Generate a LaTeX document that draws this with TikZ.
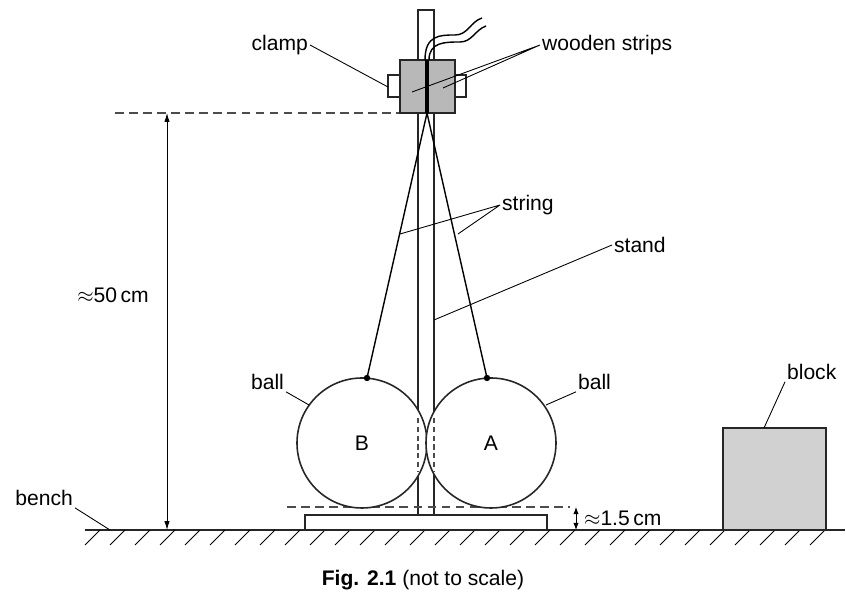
\documentclass[tikz,border=0pt]{standalone}
\usepackage{fontspec}
\setmainfont{Liberation Sans}
\usetikzlibrary{arrows.meta}
\begin{document}
\begin{tikzpicture}[x=0.02cm,y=-0.02cm,
  ln/.style={line width=0.9pt,black!85},
  lead/.style={line width=0.5pt},
  dsh/.style={line width=0.6pt,dash pattern=on 5pt off 3pt,black!70},
  lab/.style={font=\fontsize{12}{14}\selectfont,inner sep=1pt}]
\useasboundingbox (0,0) rectangle (846,607);
% ground
\draw[ln] (85,530) -- (845,530);
\foreach \x in {100,125,...,840} \draw[lead] (\x,530) -- (\x-15,545);
% base and stand
\draw[ln,fill=white] (305,515) rectangle (547,530);
\draw[ln] (418,10) rectangle (434,515);
% dashed lines
\draw[dsh] (115,113) -- (400,113);
\draw[dsh] (287,507) -- (570,507);
% balls
\node[lab] (B) at (362,443) {B};
\node[lab] (A) at (491,443) {A};
\draw[ln,fill=white] (362,443) circle[radius=65*0.02cm];
\draw[ln,fill=white] (491,443) circle[radius=65*0.02cm];
\node[lab] at (362,443) {B};
\node[lab] at (491,443) {A};
\draw[dsh,line width=0.8pt,dash pattern=on 3pt off 2pt] (418,418) -- (418,472) (434,418) -- (434,472);
% clamp
\draw[ln] (388,75) rectangle (400,97);
\draw[ln] (455,75) rectangle (466,97);
\draw[ln,fill=black!28] (400,60) rectangle (455,113);
\draw[line width=2.2pt] (427,60) -- (427,113);
% wires
\draw[line width=0.8pt] (425,60) .. controls (425,35) and (440,35) .. (455,35) .. controls (468,35) and (470,22) .. (482,18);
\draw[line width=0.8pt] (429,60) .. controls (429,42) and (445,42) .. (460,42) .. controls (472,42) and (475,30) .. (486,26);
% strings
\coordinate (top) at (427,113);
\coordinate (dB) at (367,378);
\coordinate (dA) at (487,378);
\draw[line width=0.8pt] (top) -- (dB) (top) -- (dA);
\fill (dB) circle[radius=3.2*0.02cm];
\fill (dA) circle[radius=3.2*0.02cm];
% dimension arrows
\draw[lead,{Latex[length=5pt,width=3pt]}-{Latex[length=5pt,width=3pt]}] (167,113) -- (167,530);
\node[lab,fill=white,inner sep=3pt] (d50) at (113,295) {$\approx$50\,cm};
\draw[lead,{Latex[length=4pt,width=3pt]}-{Latex[length=4pt,width=3pt]}] (576,507) -- (576,530);
\node[lab,anchor=west] (d15) at (582,518) {$\approx$1.5\,cm};
% block
\draw[ln,fill=black!18] (723,428) rectangle (826,530);
% labels and leaders
\node[lab,anchor=east] (clamp) at (310,45) {clamp};
\draw[lead] (clamp.east) -- (388,87);
\node[lab,anchor=west] (ws) at (540,45) {wooden strips};
\draw[lead] (ws.west) -- (412,92) (ws.west) -- (443,88);
\node[lab,anchor=west] (str) at (500,205) {string};
\draw[lead] (str.west) -- (400,234) (str.west) -- (458,234);
\node[lab,anchor=west] (stand) at (612,245) {stand};
\draw[lead] (stand.west) -- (434,320);
\node[lab,anchor=east] (ballB) at (286,382) {ball};
\draw[lead] (ballB.south east) -- (309,405);
\node[lab,anchor=west] (ballA) at (576,382) {ball};
\draw[lead] (ballA.south west) -- (546,405);
\node[lab,anchor=west] (block) at (785,372) {block};
\draw[lead] (block.south west) -- (764,428);
\node[lab,anchor=east] (bench) at (75,498) {bench};
\draw[lead] (bench.south east) -- (110,530);
\node[lab] (cap) at (423,580) {\textbf{Fig. 2.1} (not to scale)};
\end{tikzpicture}
\end{document}
